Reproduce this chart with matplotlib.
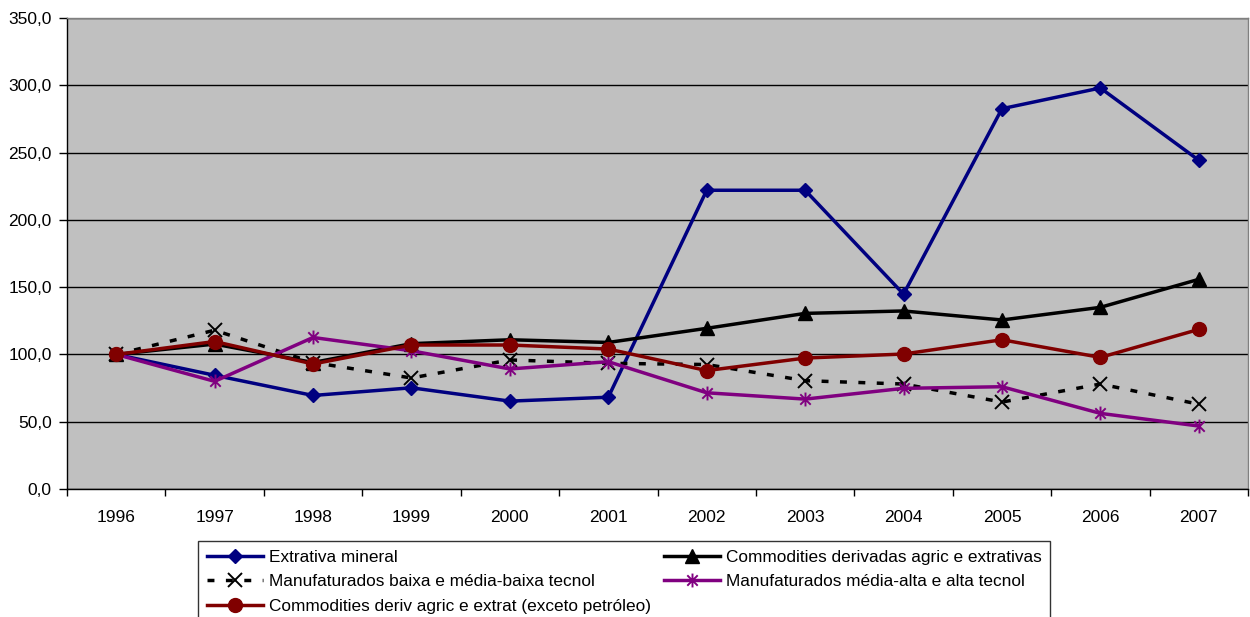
import numpy as np
import matplotlib
matplotlib.use("Agg")
import matplotlib.pyplot as plt
from matplotlib.path import Path
from matplotlib.ticker import FixedLocator, FuncFormatter

plt.rcParams['font.family'] = ['Liberation Sans', 'DejaVu Sans']

years = ['1996', '1997', '1998', '1999', '2000', '2001',
         '2002', '2003', '2004', '2005', '2006', '2007']

extrativa = [100, 84.5, 69.5, 75.2, 65.3, 68.2, 222.0, 222.0, 144.8, 282.6, 298.0, 244.3]
comm_deriv = [100, 107.7, 94.0, 108.0, 110.9, 108.9, 119.4, 130.5, 132.3, 125.6, 135.0, 155.8]
manuf_baixa = [100, 118.0, 94.0, 82.5, 95.9, 93.4, 92.5, 80.5, 78.0, 64.6, 78.0, 63.0]
manuf_alta = [100, 80.0, 112.6, 102.7, 89.2, 94.6, 71.5, 66.8, 74.8, 76.0, 56.2, 46.8]
comm_exceto = [100, 109.6, 92.9, 107.0, 107.0, 104.0, 88.0, 97.3, 100.3, 110.9, 97.8, 118.6]

labels = ['Extrativa mineral',
          'Commodities derivadas agric e extrativas',
          'Manufaturados baixa e média-baixa tecnol',
          'Manufaturados média-alta e alta tecnol',
          'Commodities deriv agric e extrat (exceto petróleo)']

# Excel-style star marker: vertical bar plus an X
star = Path([(0, -1), (0, 1), (-0.75, -0.75), (0.75, 0.75), (-0.75, 0.75), (0.75, -0.75)],
            [Path.MOVETO, Path.LINETO, Path.MOVETO, Path.LINETO, Path.MOVETO, Path.LINETO])

fig = plt.figure(figsize=(12.5, 6.17), dpi=100)
ax = fig.add_axes([67 / 1250, 1 - 489 / 617, 1181 / 1250, 471 / 617])
ax.set_facecolor('#C0C0C0')

x = np.arange(len(years))
h1, = ax.plot(x, extrativa, color='#000080', lw=2.5, marker='D', ms=7.5, zorder=3)
h2, = ax.plot(x, comm_deriv, color='black', lw=2.5, marker='^', ms=9.5, zorder=4)
h3, = ax.plot(x, manuf_baixa, color='black', lw=2.5, ls=(0, (2, 3.3)), marker='x', ms=10,
              mew=1.4, zorder=5)
h4, = ax.plot(x, manuf_alta, color='#800080', lw=2.5, marker=star, ms=10, mew=1.4, zorder=6)
h5, = ax.plot(x, comm_exceto, color='#800000', lw=2.5, marker='o', ms=10, zorder=7)

ax.set_xlim(-0.5, len(years) - 0.5)
ax.set_ylim(0, 350)
ax.set_yticks(np.arange(0, 351, 50))
ax.yaxis.set_major_formatter(FuncFormatter(lambda v, p: f'{v:.1f}'.replace('.', ',')))
ax.yaxis.grid(True, color='black', lw=1)
ax.set_axisbelow(True)

ax.set_xticks(x)
ax.set_xticklabels(years)
ax.xaxis.set_minor_locator(FixedLocator(np.arange(-0.5, len(years), 1)))
ax.tick_params(axis='x', which='major', length=0, pad=15, labelsize=12.5)
ax.tick_params(axis='x', which='minor', length=5, width=1, direction='out')
ax.tick_params(axis='y', length=6, width=1, direction='out', labelsize=12.5, pad=5)

for s in ['left', 'bottom']:
    ax.spines[s].set_color('black')
    ax.spines[s].set_linewidth(1)
for s in ['top', 'right']:
    ax.spines[s].set_color('#808080')
    ax.spines[s].set_linewidth(1)

leg = fig.legend([h1, h3, h5, h2, h4],
                 [labels[0], labels[2], labels[4], labels[1], labels[3]],
                 ncol=2, loc='upper left', bbox_to_anchor=(198 / 1250, 1 - 541 / 617),
                 frameon=True, fancybox=False, edgecolor='black', fontsize=12.4,
                 handlelength=3.3, handletextpad=0.3, columnspacing=0.75,
                 labelspacing=0.55, borderpad=0.5, borderaxespad=0)
leg.get_frame().set_linewidth(1)

fig.savefig('out.png', dpi=100)
